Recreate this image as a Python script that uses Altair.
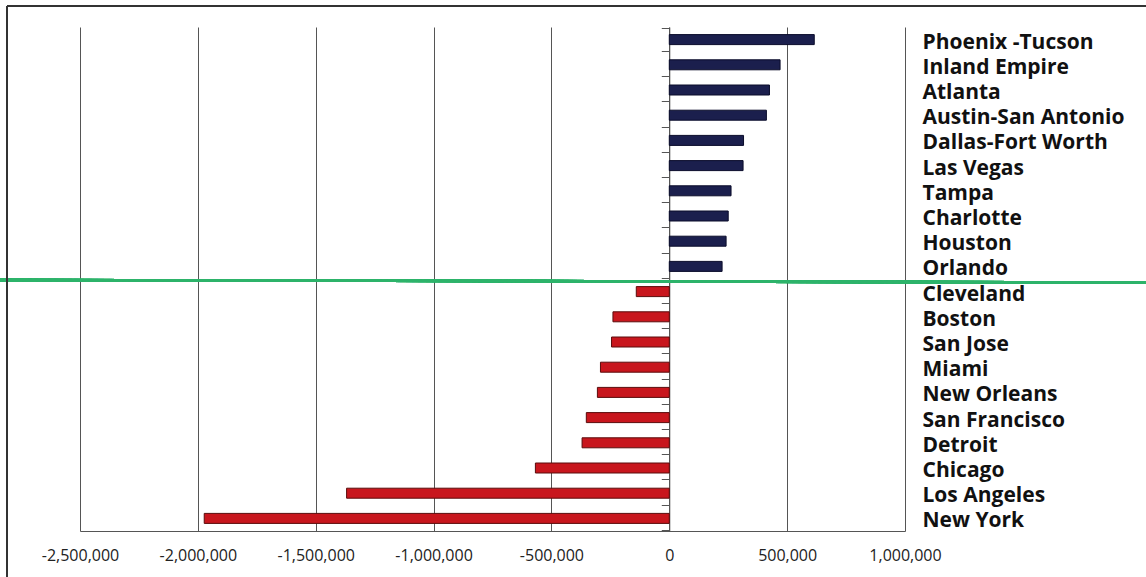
import altair as alt
import pandas as pd

cities = ["Phoenix -Tucson", "Inland Empire", "Atlanta", "Austin-San Antonio",
          "Dallas-Fort Worth", "Las Vegas", "Tampa", "Charlotte", "Houston",
          "Orlando", "Cleveland", "Boston", "San Jose", "Miami", "New Orleans",
          "San Francisco", "Detroit", "Chicago", "Los Angeles", "New York"]
values = [615000, 470000, 425000, 412000, 315000, 313000, 262000, 250000,
          241000, 224000, -140000, -239000, -245000, -292000, -305000,
          -352000, -370000, -568000, -1369000, -1973000]
tick_values = [-2500000, -2000000, -1500000, -1000000, -500000, 0, 500000, 1000000]

df = pd.DataFrame({"city": cities, "value": values})
df["sign"] = ["pos" if v >= 0 else "neg" for v in values]

W, H = 825, 504
PAD_L, PAD_T = 80, 27
zero_px = 2500000 / 3500000 * W

xscale = alt.Scale(domain=[tick_values[0], tick_values[-1]], nice=False, zero=False)

bars = alt.Chart(df).mark_bar(size=10, strokeWidth=1).encode(
    x=alt.X("value:Q", scale=xscale,
            axis=alt.Axis(values=tick_values, format=",d", title=None, grid=True,
                          gridColor="#555555", gridOpacity=1, gridWidth=1,
                          domainColor="#555555", ticks=False, labelOverlap=False,
                          labelFlush=False,
                          labelExpr="replace(datum.label, '\u2212', '-')",
                          labelFont="Open Sans", labelFontSize=16, labelColor="#222222",
                          labelPadding=16)),
    y=alt.Y("city:N", sort=None,
            axis=alt.Axis(orient="right", title=None, domain=False, ticks=False,
                          labelFont="Open Sans", labelFontWeight="bold", labelFontSize=21,
                          labelColor="#111111", labelPadding=17, labelAlign="left",
                          labelLimit=400, labelOverlap=False, labelOffset=3)),
    color=alt.Color("sign:N", scale=alt.Scale(domain=["pos", "neg"], range=["#1b1f4d", "#c8161d"]), legend=None),
    stroke=alt.Stroke("sign:N", scale=alt.Scale(domain=["pos", "neg"], range=["#0a0c2a", "#5a0c0c"]), legend=None),
)

zero_axis = alt.Chart(df).mark_point(opacity=0).encode(
    y=alt.Y("city:N", sort=None,
            axis=alt.Axis(orient="left", offset=-zero_px, labels=False, title=None,
                          tickBand="extent", tickSize=8, tickColor="#555555",
                          domainColor="#555555", grid=False)),
)

green = alt.Chart(df).mark_rule(color="#2db36a", strokeWidth=2.5).encode(
    x=alt.value(-PAD_L), x2=alt.value(1146 - PAD_L),
    y=alt.value(253), y2=alt.value(255.5),
)

border_top = alt.Chart(df).mark_rule(color="#333333", strokeWidth=2).encode(
    x=alt.value(7 - PAD_L), x2=alt.value(1146 - PAD_L),
    y=alt.value(6 - PAD_T),
)
border_left = alt.Chart(df).mark_rule(color="#333333", strokeWidth=2).encode(
    x=alt.value(7 - PAD_L),
    y=alt.value(6 - PAD_T), y2=alt.value(577 - PAD_T),
)

chart = alt.layer(bars, zero_axis, green, border_top, border_left).resolve_axis(
    y="independent"
).properties(
    width=W, height=H,
    autosize=alt.AutoSizeParams(type="none"),
    padding={"left": PAD_L, "top": PAD_T, "right": 1146 - PAD_L - W, "bottom": 577 - PAD_T - H},
    background="white",
).configure_view(stroke=None)

chart.save("out.html", embed_options={"renderer": "svg", "actions": False})
